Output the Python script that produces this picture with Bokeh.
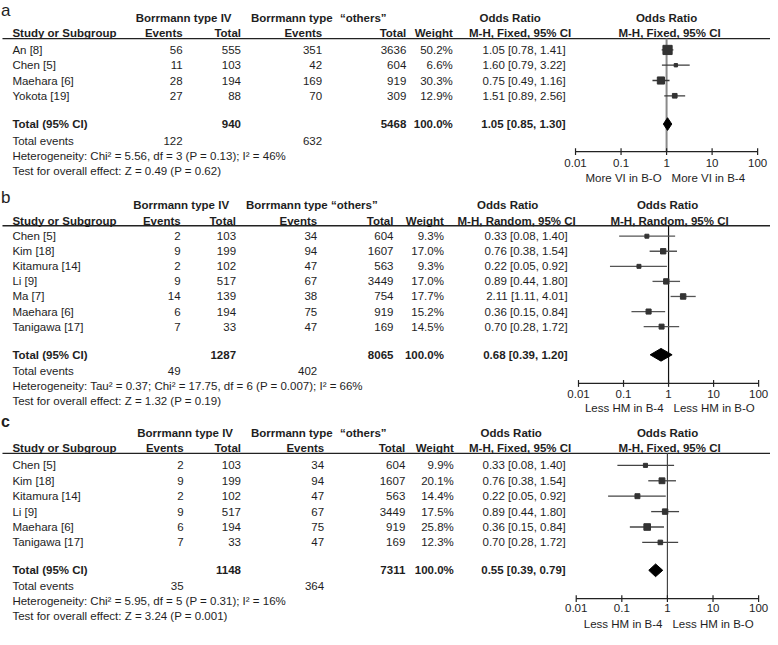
import numpy as np
from bokeh.plotting import figure
from bokeh.models import ColumnDataSource, Range1d, LogScale
from bokeh.core.properties import value
from bokeh.embed import file_html
from bokeh.resources import INLINE

# ---------------- data ----------------
# panel a : vascular invasion
a_study = ["An [8]", "Chen [5]", "Maehara [6]", "Yokota [19]"]
a_ev4 = [56, 11, 28, 27]
a_tot4 = [555, 103, 194, 88]
a_evo = [351, 42, 169, 70]
a_toto = [3636, 604, 919, 309]
a_weight = [50.2, 6.6, 30.3, 12.9]
a_or = [1.05, 1.60, 0.75, 1.51]
a_lo = [0.78, 0.79, 0.49, 0.89]
a_hi = [1.41, 3.22, 1.16, 2.56]
a_sum_tot = [940, 5468]
a_sum_ev = [122, 632]
a_pooled = [1.05, 0.85, 1.30]
a_het = "Heterogeneity: Chi² = 5.56, df = 3 (P = 0.13); I² = 46%"
a_test = "Test for overall effect: Z = 0.49 (P = 0.62)"
a_method = "M-H, Fixed, 95% CI"
a_favours = ["More VI in B-O", "More VI in B-4"]

# panel b : hematogenous metastasis (random)
b_study = ["Chen [5]", "Kim [18]", "Kitamura [14]", "Li [9]", "Ma [7]", "Maehara [6]", "Tanigawa [17]"]
b_ev4 = [2, 9, 2, 9, 14, 6, 7]
b_tot4 = [103, 199, 102, 517, 139, 194, 33]
b_evo = [34, 94, 47, 67, 38, 75, 47]
b_toto = [604, 1607, 563, 3449, 754, 919, 169]
b_weight = [9.3, 17.0, 9.3, 17.0, 17.7, 15.2, 14.5]
b_or = [0.33, 0.76, 0.22, 0.89, 2.11, 0.36, 0.70]
b_lo = [0.08, 0.38, 0.05, 0.44, 1.11, 0.15, 0.28]
b_hi = [1.40, 1.54, 0.92, 1.80, 4.01, 0.84, 1.72]
b_sum_tot = [1287, 8065]
b_sum_ev = [49, 402]
b_pooled = [0.68, 0.39, 1.20]
b_het = "Heterogeneity: Tau² = 0.37; Chi² = 17.75, df = 6 (P = 0.007); I² = 66%"
b_test = "Test for overall effect: Z = 1.32 (P = 0.19)"
b_method = "M-H, Random, 95% CI"
b_favours = ["Less HM in B-4", "Less HM in B-O"]

# panel c : hematogenous metastasis (fixed, without Ma)
c_study = ["Chen [5]", "Kim [18]", "Kitamura [14]", "Li [9]", "Maehara [6]", "Tanigawa [17]"]
c_ev4 = [2, 9, 2, 9, 6, 7]
c_tot4 = [103, 199, 102, 517, 194, 33]
c_evo = [34, 94, 47, 67, 75, 47]
c_toto = [604, 1607, 563, 3449, 919, 169]
c_weight = [9.9, 20.1, 14.4, 17.5, 25.8, 12.3]
c_or = [0.33, 0.76, 0.22, 0.89, 0.36, 0.70]
c_lo = [0.08, 0.38, 0.05, 0.44, 0.15, 0.28]
c_hi = [1.40, 1.54, 0.92, 1.80, 0.84, 1.72]
c_sum_tot = [1148, 7311]
c_sum_ev = [35, 364]
c_pooled = [0.55, 0.39, 0.79]
c_het = "Heterogeneity: Chi² = 5.95, df = 5 (P = 0.31); I² = 16%"
c_test = "Test for overall effect: Z = 3.24 (P = 0.001)"
c_method = "M-H, Fixed, 95% CI"
c_favours = ["Less HM in B-4", "Less HM in B-O"]

tick_values = [0.01, 0.1, 1, 10, 100]
tick_labels = ["0.01", "0.1", "1", "10", "100"]

# ---------------- layout ----------------
LAYOUT = {
    "a": dict(label="a", label_y=0.5, label_bold=False, label_size="17px",
              h1=18, h2=33, rule=39, row0=50.7, dy=15.67, total=126.7, events=144,
              het=159.3, test=175, axis=155, ticklab=166.7, fav=181.7,
              cols=[184, 243, 325, 410, 457, 571], h_iv=185, x_bt=253, x_oth=343,
              h_or=515, h_mh=525,
              f_or=673, f_mh=676, x001=581, x100=765, vcol="#8a8a8a", vw=2.0, ci="#3a3a3a"),
    "b": dict(label="b", label_y=192, label_bold=False, label_size="17px",
              h1=210, h2=226, rule=231, row0=241.7, dy=15.45, total=363.3, events=380,
              het=395.3, test=411, axis=392.7, ticklab=403, fav=418,
              cols=[182, 238, 320, 397, 448, 573], h_iv=182.5, x_bt=248, x_oth=334,
              h_or=512.5, h_mh=521.5,
              f_or=674, f_mh=676, x001=584, x100=766, vcol="#111111", vw=1.2, ci="#555555"),
    "c": dict(label="c", label_y=423, label_bold=True, label_size="16px",
              h1=444, h2=459.3, rule=464.3, row0=476.7, dy=15.8, total=584.3, events=600,
              het=615.3, test=630.7, axis=613.3, ticklab=623, fav=639.3,
              cols=[185, 243, 327, 409, 458, 571], h_iv=186.5, x_bt=253, x_oth=343,
              h_or=516, h_mh=525,
              f_or=674, f_mh=676, x001=581.7, x100=766, vcol="#444444", vw=1.2, ci="#444444"),
}

XMAX, YMAX = 778, 645
W, H = 770, 629
TXT = "#1e1e1e"
FONT = value("Liberation Sans")
FS = "11.5px"

p = figure(width=W, height=H, x_range=Range1d(0, XMAX), y_range=Range1d(YMAX, 0),
           output_backend="svg", toolbar_location=None, min_border=0,
           x_axis_location=None, y_axis_location=None)
p.grid.visible = False
p.outline_line_color = None
p.background_fill_color = "white"
p.border_fill_color = "white"


def txt(x, y, texts, align="left", bold=False, size=FS, rng="default", x_offset=0,
        baseline="middle"):
    src = ColumnDataSource(dict(x=list(x), y=list(y), t=list(texts)))
    p.text(x="x", y="y", text="t", source=src, text_align=align, text_baseline=baseline,
           text_font=FONT, text_font_size=value(size),
           text_font_style="bold" if bold else "normal",
           text_color=TXT, x_range_name=rng, x_offset=x_offset)


def panel(key, study, ev4, tot4, evo, toto, weight, orv, lo, hi, sum_tot, sum_ev,
          pooled, het, test, method, favours):
    L = LAYOUT[key]
    rng = "or_" + key
    span = L["x100"] - L["x001"]
    lstart = -2 - L["x001"] * 4.0 / span
    lend = lstart + XMAX * 4.0 / span
    p.extra_x_ranges[rng] = Range1d(10 ** lstart, 10 ** lend)
    p.extra_x_scales[rng] = LogScale()

    n = len(study)
    ys = [L["row0"] + i * L["dy"] for i in range(n)]
    c = L["cols"]

    # panel letter
    txt([0.5], [L["label_y"]], [L["label"]], bold=L["label_bold"], size=L["label_size"],
        baseline="top")
    # headers
    txt([L["h_iv"], L["h_or"], L["f_or"]], [L["h1"]] * 3,
        ["Borrmann type IV", "Odds Ratio", "Odds Ratio"], align="center", bold=True)
    txt([L["x_bt"], L["x_oth"]], [L["h1"]] * 2, ["Borrmann type", "\u201cothers\u201d"],
        bold=True)
    txt([12], [L["h2"]], ["Study or Subgroup"], bold=True)
    txt(c[:5], [L["h2"]] * 5, ["Events", "Total", "Events", "Total", "Weight"],
        align="right", bold=True)
    txt([L["h_mh"], L["f_mh"]], [L["h2"]] * 2, [method, method], align="center", bold=True)
    p.segment(x0=[2], x1=[XMAX], y0=[L["rule"]], y1=[L["rule"]], line_color="#222222",
              line_width=1.3)

    # study rows
    txt([12] * n, ys, study)
    txt([c[0]] * n, ys, [str(v) for v in ev4], align="right")
    txt([c[1]] * n, ys, [str(v) for v in tot4], align="right")
    txt([c[2]] * n, ys, [str(v) for v in evo], align="right")
    txt([c[3]] * n, ys, [str(v) for v in toto], align="right")
    txt([c[4]] * n, ys, ["%.1f%%" % w for w in weight], align="right")
    txt([c[5]] * n, ys, ["%.2f [%.2f, %.2f]" % (a, b, d) for a, b, d in zip(orv, lo, hi)],
        align="right")

    # totals
    t = L["total"]
    txt([12], [t], ["Total (95% CI)"], bold=True)
    txt([c[1], c[3], c[4], c[5]], [t] * 4,
        [str(sum_tot[0]), str(sum_tot[1]), "%.1f%%" % sum(weight),
         "%.2f [%.2f, %.2f]" % tuple(pooled)], align="right", bold=True)
    txt([12], [L["events"]], ["Total events"])
    txt([c[0], c[2]], [L["events"]] * 2, [str(sum_ev[0]), str(sum_ev[1])], align="right")
    txt([12, 12], [L["het"], L["test"]], [het, test])

    # forest: null line
    p.segment(x0=[1], x1=[1], y0=[L["rule"]], y1=[L["axis"]], line_color=L["vcol"],
              line_width=L["vw"], x_range_name=rng)
    # CIs and squares
    p.segment(x0=lo, x1=hi, y0=ys, y1=ys, line_color=L["ci"], line_width=1.3,
              x_range_name=rng)
    p.scatter(x=orv, y=ys, size=[1.3 * np.sqrt(w) for w in weight], marker="square",
              fill_color="#333333", line_color="#333333", x_range_name=rng)
    # diamond
    dh = 6.5
    p.patch(x=[pooled[1], pooled[0], pooled[2], pooled[0]], y=[t, t - dh, t, t + dh],
            fill_color="black", line_color="black", x_range_name=rng)
    # axis
    ay = L["axis"]
    p.segment(x0=[tick_values[0]], x1=[tick_values[-1]], y0=[ay], y1=[ay],
              line_color="#222222", line_width=1.2, x_range_name=rng)
    p.segment(x0=tick_values, x1=tick_values, y0=[ay - 3.5] * 5, y1=[ay + 3.5] * 5,
              line_color="#222222", line_width=1.2, x_range_name=rng)
    txt(tick_values, [L["ticklab"]] * 5, tick_labels, align="center", rng=rng)
    txt([1], [L["fav"]], [favours[0]], align="right", rng=rng, x_offset=-5)
    txt([1], [L["fav"]], [favours[1]], align="left", rng=rng, x_offset=5)


panel("a", a_study, a_ev4, a_tot4, a_evo, a_toto, a_weight, a_or, a_lo, a_hi,
      a_sum_tot, a_sum_ev, a_pooled, a_het, a_test, a_method, a_favours)
panel("b", b_study, b_ev4, b_tot4, b_evo, b_toto, b_weight, b_or, b_lo, b_hi,
      b_sum_tot, b_sum_ev, b_pooled, b_het, b_test, b_method, b_favours)
panel("c", c_study, c_ev4, c_tot4, c_evo, c_toto, c_weight, c_or, c_lo, c_hi,
      c_sum_tot, c_sum_ev, c_pooled, c_het, c_test, c_method, c_favours)

open("out.html", "w").write(file_html(p, INLINE))
